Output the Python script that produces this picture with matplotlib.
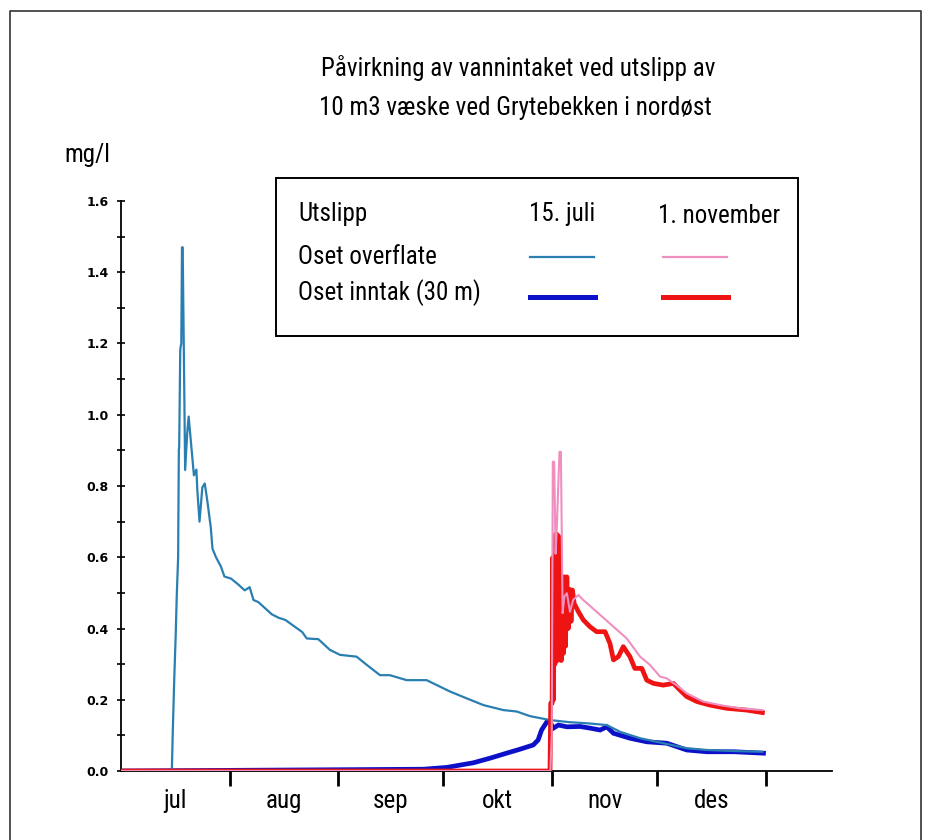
import matplotlib
matplotlib.use("Agg")
import matplotlib.pyplot as plt
from matplotlib.patches import Rectangle
from matplotlib.lines import Line2D
from matplotlib import font_manager
import numpy as np

# days after 1 July
months = ["jul", "aug", "sep", "okt", "nov", "des"]
month_starts = [0, 31, 62, 92, 123, 153, 184]

# Oset overflate, utslipp 15. juli
jul_surf_day = [0, 14.5, 14.8, 15.2, 15.6, 15.9, 16.3, 16.5, 16.6, 16.9, 17.0, 17.2, 17.4, 17.6,
                18.3, 18.9, 19.3, 19.8, 20.3, 20.8, 21.5, 21.8, 22.4, 23.2, 23.9, 24.6, 25.6,
                26.1, 27.1, 28.5, 29.5, 31.4, 33.4, 35.3, 36.7, 37.8, 39.2, 41.1, 43.0, 45.0,
                46.9, 49.3, 51.7, 53.0, 56.3, 59.6, 62.5, 67.2, 70.1, 73.9, 76.7, 81.5, 87.2,
                93.9, 98.6, 103.4, 109.1, 112.9, 116.7, 122.4, 128.0, 132.9, 138.6, 142.4,
                148.1, 154.7, 161.4, 167.1, 175.0, 183.0]
jul_surf_val = [0, 0, 0.12, 0.26, 0.38, 0.49, 0.60, 0.90, 0.91, 1.18, 1.19, 1.20, 1.47, 1.47,
                0.845, 0.95, 0.995, 0.94, 0.885, 0.83, 0.846, 0.785, 0.70, 0.796, 0.807, 0.76,
                0.685, 0.624, 0.60, 0.574, 0.546, 0.54, 0.524, 0.507, 0.516, 0.48, 0.474, 0.457,
                0.44, 0.43, 0.424, 0.407, 0.39, 0.372, 0.37, 0.34, 0.326, 0.321, 0.298, 0.269,
                0.269, 0.255, 0.255, 0.223, 0.204, 0.185, 0.171, 0.167, 0.154, 0.143, 0.137,
                0.134, 0.129, 0.110, 0.092, 0.078, 0.064, 0.059, 0.056, 0.054]

# Oset inntak (30 m), utslipp 15. juli
jul_int_day = [0, 86.3, 92.9, 100.5, 105.3, 110.0, 113.8, 117.6, 119.0, 120.0, 121.5, 122.4,
               123.3, 124.8, 127.2, 131.0, 134.0, 136.7, 138.6, 140.5, 145.2, 150.0, 155.7,
               161.4, 167.1, 175.0, 183.3]
jul_int_val = [0, 0.005, 0.01, 0.023, 0.036, 0.05, 0.061, 0.073, 0.087, 0.115, 0.138, 0.138,
               0.12, 0.129, 0.124, 0.125, 0.12, 0.115, 0.124, 0.106, 0.092, 0.082, 0.078,
               0.059, 0.054, 0.054, 0.05]

# Oset overflate, utslipp 1. november
nov_surf_day = [0, 122.5, 122.9, 123.2, 123.6, 124.0, 124.4, 125.1, 125.5, 126.0, 126.5, 127.2,
                128.1, 129.0, 130.5, 131.9, 135.7, 140.5, 144.3, 148.1, 150.9, 153.8, 155.7,
                158.5, 161.4, 166.1, 170.9, 176.6, 183.0]
nov_surf_val = [0, 0, 0.10, 0.868, 0.868, 0.61, 0.70, 0.896, 0.896, 0.443, 0.49, 0.499, 0.447,
                0.48, 0.494, 0.48, 0.447, 0.405, 0.372, 0.321, 0.298, 0.265, 0.26, 0.241,
                0.218, 0.195, 0.185, 0.176, 0.171]

# Oset inntak (30 m), utslipp 1. november
nov_int_day = [0, 122.4, 122.6, 123.0, 123.2, 123.4, 123.6, 123.8, 124.0, 124.3, 124.5, 124.8,
               125.0, 125.3, 125.6, 125.9, 126.2, 126.5, 126.8, 127.2, 127.6, 128.0, 128.4,
               128.8, 129.3, 130.5, 131.9, 133.8, 135.7, 138.1, 139.5, 140.5, 141.9, 143.3,
               145.2, 146.6, 148.6, 150.0, 151.9, 154.7, 157.6, 159.5, 161.4, 164.3, 168.0,
               172.8, 178.5, 183.0]
nov_int_val = [0, 0, 0.19, 0.19, 0.60, 0.20, 0.58, 0.30, 0.665, 0.665, 0.31, 0.66, 0.32, 0.60,
               0.31, 0.545, 0.33, 0.545, 0.35, 0.545, 0.40, 0.51, 0.42, 0.508, 0.47, 0.447,
               0.424, 0.405, 0.391, 0.391, 0.358, 0.312, 0.321, 0.349, 0.321, 0.288, 0.288,
               0.255, 0.246, 0.241, 0.246, 0.227, 0.209, 0.195, 0.185, 0.176, 0.171, 0.164]

title_lines = ["Påvirkning av vannintaket ved utslipp av", "10 m3 væske ved Grytebekken i nordøst"]
legend_head = ["Utslipp", "15. juli", "1. november"]
legend_rows = ["Oset overflate", "Oset inntak (30 m)"]

c_teal = "#2a7fb2"
c_blue = "#0c10c8"
c_pink = "#ef8fc0"
c_red = "#ee1414"

W, H = 931, 840

# narrowest family that is around
names = set(f.name for f in font_manager.fontManager.ttflist)
narrow = [n for n in ["Liberation Sans Narrow", "DejaVu Sans Condensed", "Roboto Condensed",
                      "Open Sans Condensed"] if n in names]
font = narrow[:1] + ["DejaVu Sans"]
fs = 18 if narrow else 14


def fx(px):
    return px / W


def fy(py):
    return 1 - py / H


fig = plt.figure(figsize=(W / 100, H / 100), dpi=100)
ax = fig.add_axes([fx(121), fy(771), fx(832) - fx(121), fy(201) - fy(771)])

ax.plot(jul_int_day, jul_int_val, color=c_blue, lw=3.4, zorder=2, solid_joinstyle="miter")
ax.plot(jul_surf_day, jul_surf_val, color=c_teal, lw=1.6, zorder=3)
ax.plot(nov_int_day, nov_int_val, color=c_red, lw=3.4, zorder=4)
ax.plot(nov_surf_day, nov_surf_val, color=c_pink, lw=1.5, zorder=5)

ax.set_xlim(0, (832 - 121) / 3.505)
ax.set_ylim(0, 1.6)
ax.spines["top"].set_visible(False)
ax.spines["right"].set_visible(False)
ax.spines["left"].set_linewidth(1.3)
ax.spines["bottom"].set_linewidth(1.3)

ax.set_yticks(np.arange(0, 1.61, 0.2))
ax.set_yticks(np.arange(0.1, 1.6, 0.2), minor=True)
ax.set_yticklabels([f"{v:.1f}" for v in np.arange(0, 1.61, 0.2)], fontsize=9,
                   fontweight="bold", family="DejaVu Sans")
ax.tick_params(axis="y", which="both", direction="inout", length=6, width=1.2, pad=6)

ax.set_xticks(month_starts[1:])
ax.set_xticklabels([])
ax.tick_params(axis="x", which="major", direction="out", length=11, width=2)
mids = [(month_starts[i] + month_starts[i + 1]) / 2 for i in range(len(months))]
ax.set_xticks(mids, minor=True)
ax.set_xticklabels(months, minor=True, fontsize=fs, family=font)
ax.tick_params(axis="x", which="minor", length=0, pad=13)

fig.text(fx(518), fy(68), title_lines[0], ha="center", va="center", fontsize=fs, family=font)
fig.text(fx(515), fy(108), title_lines[1], ha="center", va="center", fontsize=fs, family=font)
fig.text(fx(87), fy(155), "mg/l", ha="center", va="center", fontsize=fs, family=font)

# legend box
fig.patches.append(Rectangle((fx(276), fy(336)), fx(798) - fx(276), fy(178) - fy(336),
                             transform=fig.transFigure, fill=False, ec="black", lw=1.4))
fig.text(fx(298), fy(214), legend_head[0], ha="left", va="center", fontsize=fs, family=font)
fig.text(fx(562), fy(214), legend_head[1], ha="center", va="center", fontsize=fs, family=font)
fig.text(fx(719), fy(216), legend_head[2], ha="center", va="center", fontsize=fs, family=font)
fig.text(fx(298), fy(257), legend_rows[0], ha="left", va="center", fontsize=fs, family=font)
fig.text(fx(298), fy(293), legend_rows[1], ha="left", va="center", fontsize=fs, family=font)
fig.lines.append(Line2D([fx(530), fx(594)], [fy(257), fy(257)], transform=fig.transFigure,
                        color=c_teal, lw=1.6))
fig.lines.append(Line2D([fx(663), fx(727)], [fy(257), fy(257)], transform=fig.transFigure,
                        color=c_pink, lw=1.6))
fig.lines.append(Line2D([fx(530), fx(595)], [fy(297), fy(297)], transform=fig.transFigure,
                        color=c_blue, lw=3.6))
fig.lines.append(Line2D([fx(663), fx(728)], [fy(297), fy(297)], transform=fig.transFigure,
                        color=c_red, lw=3.6))

# outer frame
fig.lines.append(Line2D([fx(10), fx(10), fx(921), fx(921)], [fy(840), fy(11), fy(11), fy(840)],
                        transform=fig.transFigure, color="#333333", lw=1.2))

fig.savefig("out.png", dpi=100)
